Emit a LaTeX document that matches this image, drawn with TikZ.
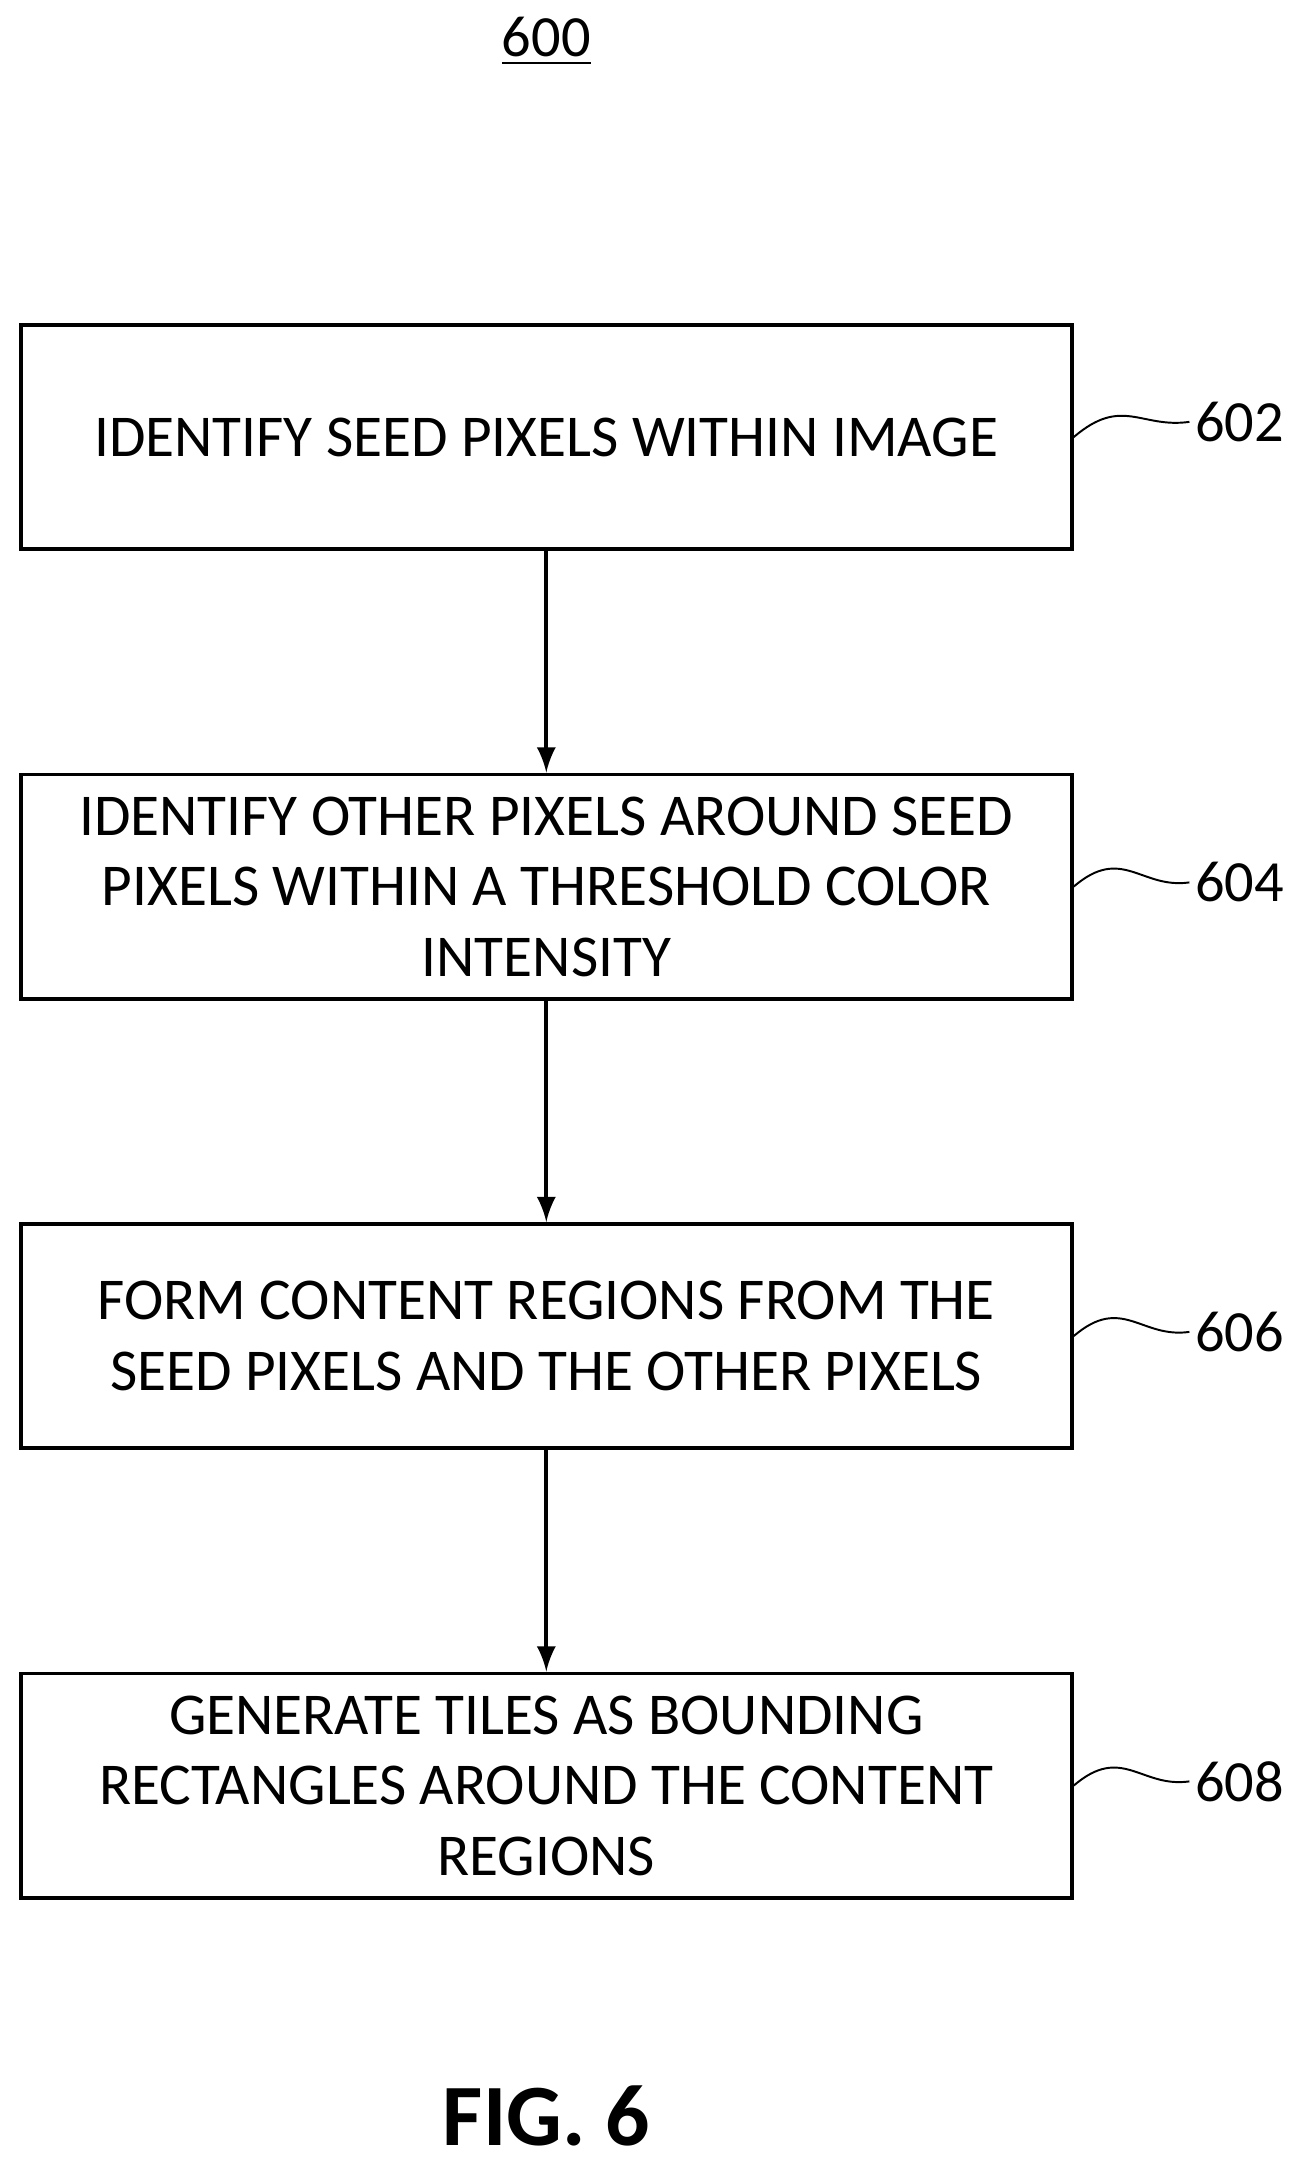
\documentclass[tikz,border=0pt]{standalone}
\usepackage{fontspec}
\setmainfont{Carlito}
\begin{document}
\begin{tikzpicture}
	\tikzset{etape/.style={draw,thick,minimum width=7.6cm,minimum height=1.62cm,align=center,font=\fontsize{12.2}{14.5}\selectfont},
		fleche/.style={->,>=latex,thick},
		renvoi/.style={font=\fontsize{12}{14}\selectfont,anchor=west,inner sep=1pt},
		vague/.style={thin}}
	\useasboundingbox (0,0) rectangle (9.4,-15.69);
	\def\ColX{3.95}
	\node[font=\fontsize{12}{14}\selectfont] (titre) at (\ColX,-0.3) {\underline{600}};
	\node[etape] (E1) at (\ColX,-3.16) {IDENTIFY SEED PIXELS WITHIN IMAGE};
	\node[etape] (E2) at (\ColX,-6.41) {IDENTIFY OTHER PIXELS AROUND SEED\\PIXELS WITHIN A THRESHOLD COLOR\\INTENSITY};
	\node[etape] (E3) at (\ColX,-9.66) {FORM CONTENT REGIONS FROM THE\\SEED PIXELS AND THE OTHER PIXELS};
	\node[etape] (E4) at (\ColX,-12.91) {GENERATE TILES AS BOUNDING\\RECTANGLES AROUND THE CONTENT\\REGIONS};
	\node[renvoi] (R1) at (8.6,-3.05) {602};
	\node[renvoi] (R2) at (8.6,-6.38) {604};
	\node[renvoi] (R3) at (8.6,-9.63) {606};
	\node[renvoi] (R4) at (8.6,-12.88) {608};
	\draw[fleche] (E1)--(E2);
	\draw[fleche] (E2)--(E3);
	\draw[fleche] (E3)--(E4);
	\foreach \e/\r in {E1/R1,E2/R2,E3/R3,E4/R4}
		\draw[vague] (\e.east) .. controls +(0.35,0.3) and +(-0.35,-0.05) .. (\r.west);
	\node[font=\bfseries\fontsize{18}{22}\selectfont] (fig) at (\ColX,-15.3) {FIG. 6};
\end{tikzpicture}
\end{document}
